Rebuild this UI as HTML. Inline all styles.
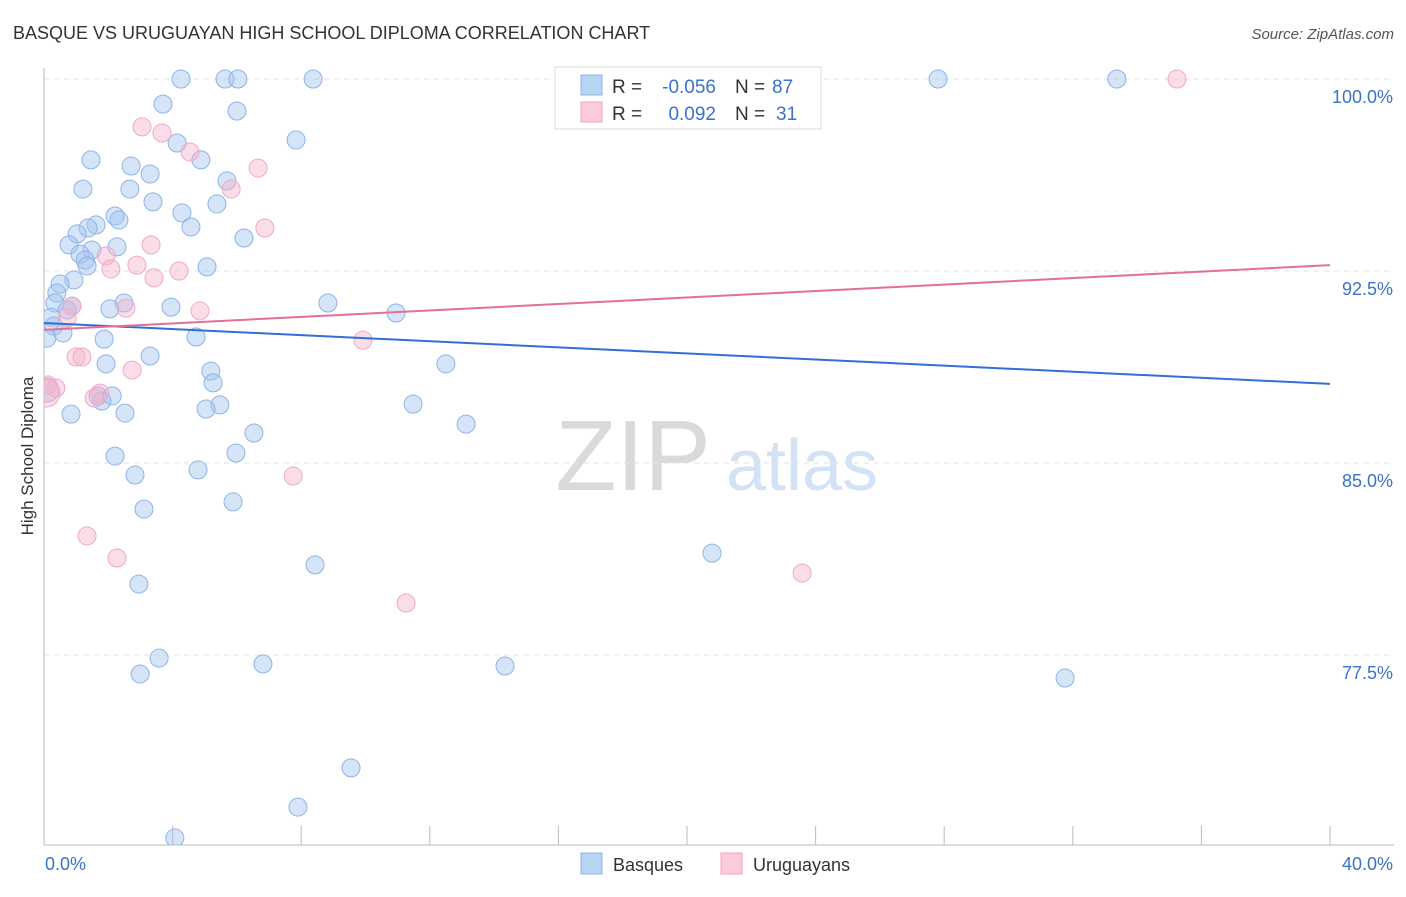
<!DOCTYPE html>
<html><head><meta charset="utf-8"><style>
body{margin:0;background:#fff;font-family:"Liberation Sans",sans-serif;}
svg text{font-family:"Liberation Sans",sans-serif;}
</style></head><body>
<svg id="chart" width="1406" height="892" xmlns="http://www.w3.org/2000/svg">
<text x="13" y="39" font-size="18" fill="#333">BASQUE VS URUGUAYAN HIGH SCHOOL DIPLOMA CORRELATION CHART</text>
<text x="1394" y="39" font-size="15" fill="#555" text-anchor="end" font-style="italic">Source: ZipAtlas.com</text>
<text transform="translate(33,456) rotate(-90)" font-size="17" fill="#333" text-anchor="middle">High School Diploma</text>
<g>
<text x="633" y="490" font-size="100" fill="#dadada" text-anchor="middle" font-family="Liberation Serif,serif">ZIP</text>
<text x="802" y="490" font-size="72" fill="#d3e2f4" text-anchor="middle">atlas</text>
</g>
<g id="grid"></g><g id="axes"></g>
<defs><clipPath id="plotclip"><rect x="44" y="60" width="1362" height="785"/></clipPath></defs>
<g id="points" clip-path="url(#plotclip)"></g>
<g id="trends"></g>
<g>
<rect x="555" y="67" width="266" height="62" fill="#fff" stroke="#ddd"/>
<rect x="581" y="75" width="21" height="20" fill="#b9d3f5" stroke="#8db4e8"/>
<rect x="581" y="102" width="21" height="20" fill="#fbcadb" stroke="#efa3bf"/>
<text x="612" y="93" font-size="19" fill="#333">R =</text>
<text x="716" y="93" font-size="19" fill="#3a72cc" text-anchor="end">-0.056</text>
<text x="735" y="93" font-size="19" fill="#333">N =</text>
<text x="772" y="93" font-size="19" fill="#3a72cc">87</text>
<text x="612" y="120" font-size="19" fill="#333">R =</text>
<text x="716" y="120" font-size="19" fill="#3a72cc" text-anchor="end">0.092</text>
<text x="735" y="120" font-size="19" fill="#333">N =</text>
<text x="776" y="120" font-size="19" fill="#3a72cc">31</text>
</g>
<g>
<rect x="581" y="853" width="21" height="21" fill="#b9d3f5" stroke="#8db4e8"/>
<text x="613" y="871" font-size="18" fill="#333">Basques</text>
<rect x="721" y="853" width="21" height="21" fill="#fbcadb" stroke="#efa3bf"/>
<text x="753" y="871" font-size="18" fill="#333">Uruguayans</text>
</g>
</svg>
<script>
const yTicks=[100,92.5,85,77.5];
const yTickLabels=["100.0%","92.5%","85.0%","77.5%"];
const xTicks=[0,4,8,12,16,20,24,28,32,36,40];
const xEndLabels=["0.0%","40.0%"];
const basqueX=[4.26,5.63,6.03,8.37,27.81,33.37,3.70,6.00,7.84,4.14,1.46,4.88,2.71,3.30,1.21,2.67,5.69,3.39,5.38,4.29,2.21,2.33,1.62,1.37,4.57,1.03,6.22,2.27,0.78,1.49,1.12,1.28,1.34,5.07,0.93,0.50,0.40,0.34,0.87,2.49,8.83,3.95,2.05,0.72,0.22,0.31,0.59,0.09,4.73,1.87,3.30,1.93,12.50,5.19,5.26,1.68,2.12,1.80,5.47,5.04,11.48,2.52,0.84,13.13,6.53,5.97,2.21,4.79,2.83,5.88,3.11,20.78,8.43,2.95,3.58,6.81,14.34,2.99,31.76,9.55,7.90,4.07,10.95,0.09];
const basqueY=[100,100,100,100,100,100,99.02,98.75,97.62,97.5,96.84,96.84,96.6,96.29,95.7,95.7,96.02,95.2,95.12,94.77,94.65,94.49,94.3,94.18,94.22,93.95,93.79,93.44,93.52,93.32,93.16,92.93,92.7,92.66,92.15,91.99,91.64,91.25,91.13,91.25,91.25,91.09,91.02,90.98,90.7,90.35,90.08,89.88,89.92,89.84,89.18,88.87,88.87,88.59,88.13,87.62,87.62,87.42,87.27,87.11,87.3,86.95,86.91,86.52,86.17,85.39,85.27,84.73,84.53,83.48,83.2,81.48,81.02,80.27,77.38,77.15,77.07,76.76,76.6,73.09,71.56,70.35,90.86,87.85];
const uruX=[35.24,3.05,3.67,4.54,6.66,5.82,6.87,3.33,1.93,2.89,2.08,4.20,3.42,0.87,2.55,4.85,0.72,9.92,1.00,1.18,2.74,0.12,0.37,1.74,1.56,7.75,1.34,2.27,23.58,11.26,0.06];
const uruY=[100,98.13,97.89,97.15,96.52,95.7,94.18,93.52,93.09,92.73,92.58,92.5,92.23,91.13,91.05,90.94,90.66,89.8,89.14,89.14,88.63,88.05,87.93,87.73,87.54,84.49,82.15,81.29,80.7,79.53,87.73];
const basqueTrend=[90.47,88.09];
const uruTrend=[90.2,92.73];
const NS="http://www.w3.org/2000/svg";
const xs=v=>44+v/40*1286;
const ys=v=>79+(100-v)*25.6;
function mk(tag,at,parent){const e=document.createElementNS(NS,tag);for(const k in at)e.setAttribute(k,at[k]);document.getElementById(parent).appendChild(e);return e;}
yTicks.forEach((t,i)=>{
 const l=mk('line',{x1:44,x2:1394,y1:ys(t),y2:ys(t),stroke:'#e2e2e2','stroke-dasharray':'5,5'},'grid');
 
 
 const tx=mk('text',{x:1393,y:ys(t)+24,'font-size':18,fill:'#3a72cc','text-anchor':'end'},'grid');
 tx.textContent=yTickLabels[i];
 
 
});
let a=mk('line',{x1:44,x2:44,y1:68,y2:845,stroke:'#bbb'},'axes');


a=mk('line',{x1:44,x2:1394,y1:845,y2:845,stroke:'#bbb'},'axes');


xTicks.forEach(t=>{
 const l=mk('line',{x1:xs(t),x2:xs(t),y1:826,y2:845,stroke:'#bbb'},'axes');
 
 
});
[[0,'start'],[40,'end']].forEach((p,i)=>{
 const tx=mk('text',{x:i?1393:45,y:870,'font-size':18,fill:'#3a72cc','text-anchor':p[1]},'axes');
 tx.textContent=xEndLabels[i];
 
 
});
basqueX.forEach((v,i)=>{
 const c=mk('circle',{cx:xs(v),cy:ys(basqueY[i]),r:i==basqueX.length-1?12:9,fill:'rgba(163,196,240,0.45)',stroke:'#8db4e8','stroke-width':1},'points');
 
 
});
uruX.forEach((v,i)=>{
 const c=mk('circle',{cx:xs(v),cy:ys(uruY[i]),r:i==uruX.length-1?14:9,fill:'rgba(245,180,205,0.45)',stroke:'#f0aac4','stroke-width':1},'points');
 
 
});
let t=mk('line',{x1:xs(0),x2:xs(40),y1:ys(basqueTrend[0]),y2:ys(basqueTrend[1]),stroke:'#2f6fd6','stroke-width':2},'trends');


t=mk('line',{x1:xs(0),x2:xs(40),y1:ys(uruTrend[0]),y2:ys(uruTrend[1]),stroke:'#e46f9a','stroke-width':2},'trends');


</script>
</body></html>
